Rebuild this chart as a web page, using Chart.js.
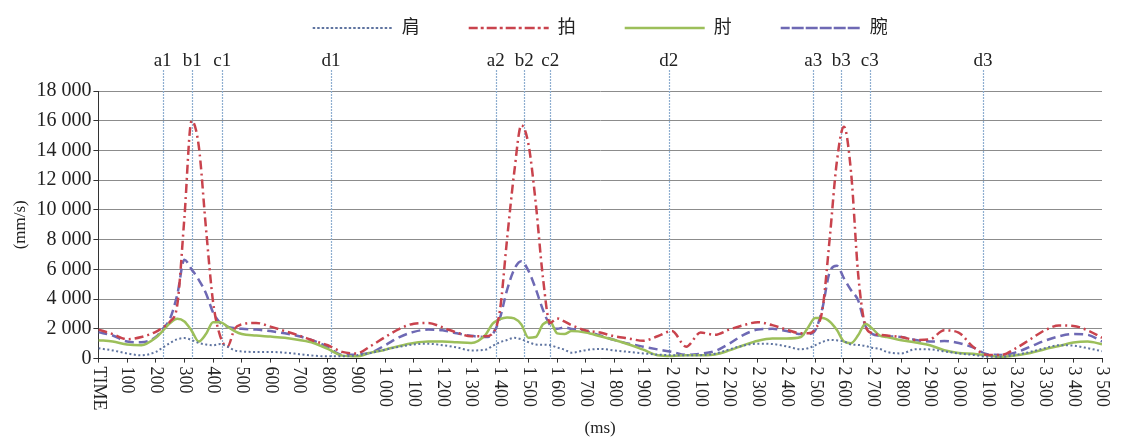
<!DOCTYPE html>
<html lang="zh">
<head>
<meta charset="utf-8">
<title>肩 拍 肘 腕 速度曲线</title>
<script src="https://cdn.jsdelivr.net/npm/chart.js@4.4.1/dist/chart.umd.min.js"></script>
<style>
  html, body { margin: 0; padding: 0; background: #fff; }
  canvas { display: block; }
</style>
</head>
<body>
<canvas id="speedChart" width="1122" height="439"></canvas>
<script>
// 采样时间 (ms)，峰值附近加密
const times = [0,50,100,150,200,225,250,275,300,325,350,375,400,425,450,475,500,
  550,600,650,700,750,800,850,900,950,1000,1050,1100,1150,1200,1250,1300,1350,
  1375,1400,1425,1450,1475,1500,1525,1550,1575,1600,1625,1650,
  1700,1750,1800,1850,1900,1950,2000,2050,2100,2150,2200,2250,2300,2350,2400,2450,
  2475,2500,2525,2550,2575,2600,2625,2650,2675,2700,2725,2750,
  2800,2850,2900,2950,3000,3050,3100,3150,3200,3250,3300,3350,3400,3450,3500];

// 肩
const shoulder = [700,550,350,220,450,750,1050,1300,1380,1250,1050,950,900,980,800,550,480,
  450,450,400,300,200,150,150,220,380,600,800,950,1000,900,750,550,600,
  850,1100,1250,1400,1300,1100,950,930,900,750,600,400,
  570,650,550,450,350,270,230,220,230,330,620,880,1000,980,820,630,
  700,900,1120,1260,1230,1150,950,920,850,720,650,450,
  350,630,620,480,350,250,130,120,250,450,700,900,870,700,500];

// 拍
const racket = [1950,1650,1300,1450,1800,2100,2500,3600,9500,16000,14300,8800,3800,1500,800,2000,2300,
  2400,2150,1850,1550,1200,900,450,350,850,1450,2000,2350,2400,2100,1750,1500,1500,
  1700,3200,8000,12500,15700,14400,10500,5500,2400,2700,2500,2250,
  1900,1750,1500,1350,1200,1500,1850,800,1750,1600,1950,2250,2450,2250,1950,1700,
  1700,2000,3300,8000,13200,15600,12500,5600,2200,1700,1600,1550,
  1450,1250,1300,1900,1750,800,250,250,700,1300,1900,2230,2200,1900,1400];

// 肘
const elbow = [1240,1150,950,900,1400,1880,2390,2685,2500,1880,1150,1650,2450,2450,2150,1850,1650,
  1550,1480,1400,1250,1050,650,200,150,400,600,850,1050,1150,1150,1100,1050,1600,
  2350,2650,2770,2700,2300,1400,1450,2300,2500,1700,1650,1850,
  1750,1500,1250,950,600,230,180,220,230,280,550,900,1200,1350,1350,1450,
  2100,2730,2730,2500,1940,1150,1040,1580,2350,2000,1550,1450,
  1240,1080,900,560,380,330,225,120,225,380,630,850,1080,1150,970];

// 腕
const wrist = [1780,1550,1150,1100,1450,2000,2700,4300,6650,6000,5300,4400,3100,2400,2150,2050,2000,
  1950,1850,1700,1500,1200,800,250,270,400,900,1450,1800,1950,1900,1700,1530,1450,
  1650,2700,4600,6000,6550,5900,4700,3300,2250,2000,2100,2000,
  1850,1550,1250,1000,800,620,450,250,330,500,1000,1600,1950,2000,1850,1650,
  1650,1900,3400,5800,6250,5400,4600,3900,2200,1650,1550,1500,
  1450,1250,1150,1180,1050,750,300,250,420,800,1200,1500,1650,1600,1150];

// 分段标记
const markerNames = ['a1','b1','c1','d1','a2','b2','c2','d2','a3','b3','c3','d3'];
const markerTimes = [224,327,432,811,1386,1485,1576,1989,2493,2591,2690,3085];

// 刻度标签
const xTickLabels = ['TIME','100','200','300','400','500','600','700','800','900',
  '1 000','1 100','1 200','1 300','1 400','1 500','1 600','1 700','1 800','1 900',
  '2 000','2 100','2 200','2 300','2 400','2 500','2 600','2 700','2 800','2 900',
  '3 000','3 100','3 200','3 300','3 400','3 500'];
const yTickLabels = ['0','2 000','4 000','6 000','8 000','10 000','12 000','14 000','16 000','18 000'];

const SERIF = "'Liberation Serif', 'Noto Sans CJK SC', serif";

// 标记竖线与 a1..d3 文字
const markerPlugin = {
  id: 'phaseMarkers',
  beforeDatasetsDraw(chart) {
    const { ctx, chartArea, scales: { x } } = chart;
    ctx.save();
    ctx.strokeStyle = '#8eaed0';
    ctx.lineWidth = 1.2;
    ctx.setLineDash([2, 1]);
    markerTimes.forEach(t => {
      const px = Math.round(x.getPixelForValue(t)) + 0.5;
      ctx.beginPath();
      ctx.moveTo(px, chartArea.top - 21);
      ctx.lineTo(px, chartArea.bottom);
      ctx.stroke();
    });
    ctx.restore();
  },
  afterDraw(chart) {
    const { ctx, chartArea, scales: { x } } = chart;
    ctx.save();
    ctx.font = '19px ' + SERIF;
    ctx.fillStyle = '#222';
    ctx.textAlign = 'center';
    ctx.textBaseline = 'middle';
    markerTimes.forEach((t, i) => {
      ctx.fillText(markerNames[i], x.getPixelForValue(t), chartArea.top - 30);
    });
    ctx.restore();
  }
};

// x 轴标签顺时针竖排
const verticalTicks = {
  id: 'verticalTicks',
  afterDraw(chart) {
    const { ctx, chartArea, scales: { x } } = chart;
    ctx.save();
    ctx.font = '18px ' + SERIF;
    ctx.fillStyle = '#222';
    ctx.textAlign = 'left';
    ctx.textBaseline = 'middle';
    x.ticks.forEach(tk => {
      const label = xTickLabels[Math.round(tk.value / 100)];
      if (label === undefined) return;
      ctx.save();
      ctx.translate(x.getPixelForValue(tk.value), chartArea.bottom + 8);
      ctx.rotate(Math.PI / 2);
      ctx.fillText(label, 0, 0);
      ctx.restore();
    });
    ctx.restore();
  }
};

const common = { pointRadius: 0, fill: false, cubicInterpolationMode: 'monotone' };

new Chart(document.getElementById('speedChart'), {
  type: 'line',
  data: {
    labels: times,
    datasets: [
      { ...common, label: '肩', data: shoulder, borderColor: '#5f74a0', borderWidth: 2, borderDash: [2, 2.5] },
      { ...common, label: '拍', data: racket, borderColor: '#c9434d', borderWidth: 2.5, borderDash: [9, 4, 2, 4] },
      { ...common, label: '肘', data: elbow, borderColor: '#9cbf5a', borderWidth: 2.5 },
      { ...common, label: '腕', data: wrist, borderColor: '#6e69b4', borderWidth: 2.5, borderDash: [9, 5] }
    ]
  },
  options: {
    responsive: false,
    animation: false,
    layout: { padding: { left: 10, right: 20, top: 6, bottom: 0 } },
    plugins: {
      legend: {
        position: 'top',
        fullSize: false,
        weight: 3000,
        labels: {
          boxWidth: 80,
          boxHeight: 0,
          padding: 13,
          color: '#222',
          font: { family: SERIF, size: 18 },
          generateLabels(chart) {
            const items = Chart.defaults.plugins.legend.labels.generateLabels(chart);
            return items.map((it, i) => ({
              ...it,
              fillStyle: 'rgba(0,0,0,0)',
              text: i < items.length - 1 ? it.text + '\u2003\u2003' : it.text
            }));
          }
        }
      },
      title: {
        display: true,
        text: ' ',
        font: { size: 10 },
        padding: { top: 0, bottom: 32 }
      },
      tooltip: { enabled: false }
    },
    scales: {
      x: {
        type: 'linear',
        min: 0,
        max: 3500,
        ticks: { stepSize: 100, display: false },
        grid: { drawOnChartArea: false, tickLength: 4, tickColor: '#333' },
        border: { color: '#222', width: 1 },
        title: {
          display: true, text: '(ms)', color: '#222',
          font: { family: SERIF, size: 17 },
          padding: { top: 56, bottom: 0 }
        }
      },
      y: {
        min: 0,
        max: 18000,
        ticks: {
          stepSize: 2000, padding: 2, color: '#222',
          font: { family: SERIF, size: 20 },
          callback: v => yTickLabels[Math.round(v / 2000)]
        },
        grid: { color: '#8c8c8c', lineWidth: 1, tickLength: 5, tickColor: '#333' },
        border: { color: '#333', width: 1 },
        title: {
          display: true, text: '(mm/s)', color: '#222',
          font: { family: SERIF, size: 17 },
          padding: { top: 0, bottom: 4 }
        }
      }
    }
  },
  plugins: [markerPlugin, verticalTicks]
});
</script>
</body>
</html>
